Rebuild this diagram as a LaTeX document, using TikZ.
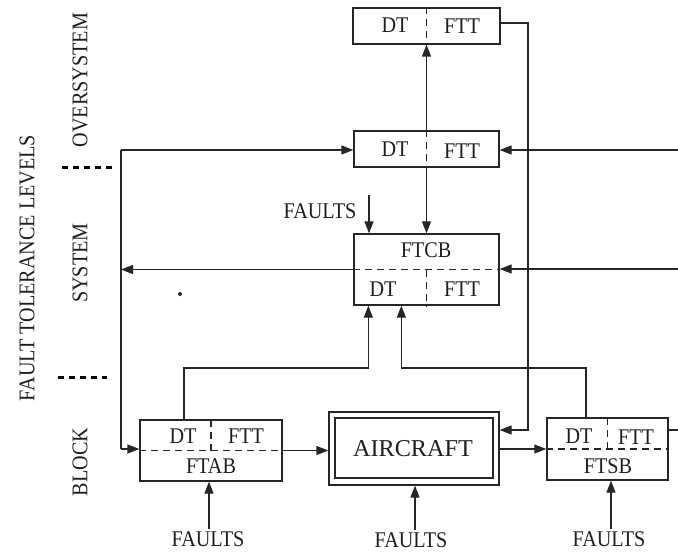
\documentclass[tikz,border=0pt]{standalone}
\usepackage{fontspec}
\setmainfont{Liberation Serif}
\usetikzlibrary{arrows.meta}
\newcommand\nrw[1]{\scalebox{0.9}[1]{#1}}
\begin{document}
\begin{tikzpicture}[x=1bp,y=-1bp,
  ln/.style={line width=1.3bp, draw=black!85},
  box/.style={ln, rectangle, inner sep=0pt},
  txt/.style={font=\fontsize{22.5}{23}\selectfont, inner sep=0pt, text=black!88},
  div/.style={ln, dash pattern=on 7bp off 5bp},
  arr/.style={ln, -{Triangle[length=12bp,width=9bp]}},
  lvl/.style={line width=3bp, dash pattern=on 6bp off 5bp}]
\useasboundingbox (0,0) rectangle (678,552);

% boxes
\node[box, minimum width=147bp, minimum height=36bp] (ost) at (426.5,26) {};
\node[box, minimum width=145bp, minimum height=36bp] (osm) at (426.5,149) {};
\node[box, minimum width=145bp, minimum height=71bp] (ftcb) at (426.5,269.5) {};
\node[box, minimum width=142bp, minimum height=61bp] (ftab) at (211,450.5) {};
\node[box, minimum width=170bp, minimum height=73bp] (airo) at (414,448.5) {};
\node[box, minimum width=158bp, minimum height=60bp] (air) at (414,448) {};
\node[box, minimum width=121bp, minimum height=62bp] (ftsb) at (607.5,449) {};

% dividers
\draw[div] (ost.north) -- (ost.south);
\draw[div] (osm.north) -- (osm.south);
\draw[div] (ftcb.west) -- (ftcb.east);
\draw[div] (ftcb.center) -- (ftcb.south);
\draw[div] (ftab.west) -- (ftab.east);
\draw[div] (ftab.center) -- (ftab.north);
\draw[div] (ftsb.west) -- (ftsb.east);
\draw[div] (ftsb.center) -- (ftsb.north);

% texts in boxes
\node[txt] (t1) at (395,25) {\nrw{DT}};
\node[txt] (t2) at (462,26) {\nrw{FTT}};
\node[txt] (t3) at (395,149) {\nrw{DT}};
\node[txt] (t4) at (462,151) {\nrw{FTT}};
\node[txt] (t5) at (426,250) {\nrw{FTCB}};
\node[txt] (t6) at (383,289) {\nrw{DT}};
\node[txt] (t7) at (462,289) {\nrw{FTT}};
\node[txt] (t8) at (183,436) {\nrw{DT}};
\node[txt] (t9) at (246,436) {\nrw{FTT}};
\node[txt] (t10) at (211,466) {\nrw{FTAB}};
\node[txt] (t11) at (579,436) {\nrw{DT}};
\node[txt] (t12) at (636,437) {\nrw{FTT}};
\node[txt] (t13) at (608,466) {\nrw{FTSB}};
\node[txt, font=\fontsize{24.3}{25}\selectfont] (t14) at (413,449) {AIRCRAFT};

% level labels
\node[txt, rotate=90] (lo) at (80,80) {\nrw{OVERSYSTEM}};
\node[txt, rotate=90] (ls) at (80,263) {\nrw{SYSTEM}};
\node[txt, rotate=90] (lb) at (80,462) {\nrw{BLOCK}};
\node[txt, rotate=90] (lf) at (27,268) {\nrw{FAULT TOLERANCE LEVELS}};
\draw[lvl] (62,168) -- (113,168);
\draw[lvl] (58,377) -- (107,377);
\fill[black!85] (180,294) circle (2bp);

% faults labels
\node[txt] (f1) at (320,211) {\nrw{FAULTS}};
\node[txt] (f2) at (208,539) {\nrw{FAULTS}};
\node[txt] (f3) at (411,540) {\nrw{FAULTS}};
\node[txt] (f4) at (609,539) {\nrw{FAULTS}};
\coordinate (f1a) at (369,195);
\coordinate (f2a) at (209,529);
\coordinate (f3a) at (415,530);
\coordinate (f4a) at (611,529);
\draw[arr] (f1a) -- (ftcb.north -| f1a);
\draw[arr] (f2a) -- (ftab.south -| f2a);
\draw[arr] (f3a) -- (airo.south -| f3a);
\draw[arr] (f4a) -- (ftsb.south -| f4a);

% vertical links in oversystem
\draw[arr] (osm.north) -- (ost.south);
\draw[arr] (osm.south) -- (ftcb.north);

% left bus
\coordinate (l1) at (121,150);
\coordinate (l3) at (121,449);
\draw[arr] (l1) -- (osm.west |- l1);
\draw[ln] (l1) -- (l3);
\draw[arr] (l3) -- (ftab.west |- l3);
\draw[arr] (ftcb.west) -- (l1 |- ftcb.west);

% right inputs
\coordinate (r1) at (678,150);
\coordinate (r2) at (678,269);
\coordinate (r3) at (678,430);
\draw[arr] (r1) -- (osm.east |- r1);
\draw[arr] (r2) -- (ftcb.east |- r2);
\draw[ln] (ftsb.east |- r3) -- (r3);

% oversystem to aircraft
\coordinate (b3) at (528,23);
\coordinate (b4) at (528,430);
\draw[arr] (ost.east |- b3) -- (b3) -- (b4) -- (airo.east |- b4);

% block to system
\coordinate (b1) at (184,368);
\coordinate (b2) at (586,368);
\draw[arr] (ftab.north -| b1) -- (b1) -| ([xshift=15bp]ftcb.south west);
\draw[arr] (ftsb.north -| b2) -- (b2) -| ([xshift=48bp]ftcb.south west);

% block chain
\draw[arr] (ftab.east) -- (airo.west |- ftab.east);
\draw[arr] (airo.east |- ftsb.west) -- (ftsb.west);
\end{tikzpicture}
\end{document}
